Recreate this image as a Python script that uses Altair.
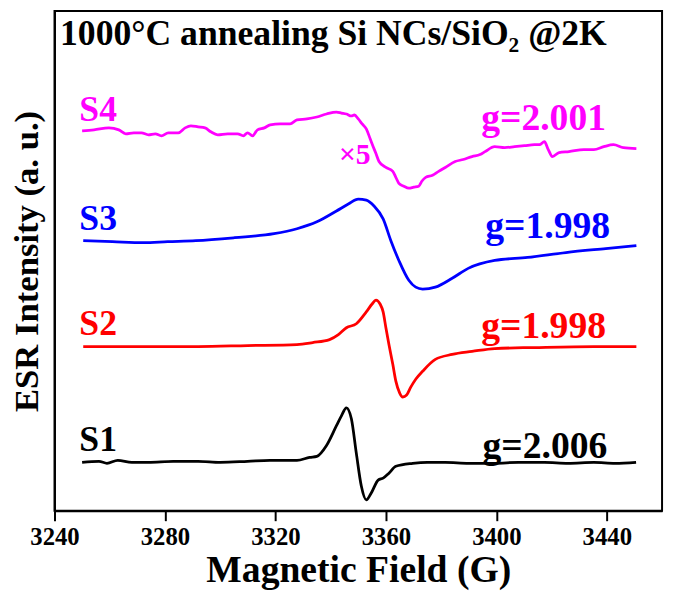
import altair as alt
import pandas as pd

# ---- data (field in G, offset intensity in a.u.) ----
s1_field = [3250.0, 3256.1, 3259.0, 3262.9, 3268.0, 3274.0, 3283.0, 3292.0, 3300.0, 3309.9, 3318.0, 3327.8,
            3332.4, 3335.0, 3338.5, 3342.1, 3343.9, 3345.7, 3347.5, 3349.3, 3351.1, 3352.9, 3354.7,
            3357.2, 3359.0, 3361.1, 3363.6, 3369.7, 3375.0, 3381.5, 3390.0, 3399.4, 3408.0, 3417.4, 3426.0,
            3435.3, 3443.0, 3450.6]
s1_int = [49, 50, 48, 51, 49, 49, 50, 50, 49, 50, 51, 51,
          54, 55, 66, 86, 96, 104, 93, 58, 25, 11, 18,
          31, 33, 38, 45, 48, 49, 49, 48, 48, 49, 49, 48,
          49, 48, 49]

s2_field = [3250.4, 3274.0, 3292.0, 3309.9, 3327.8, 3333.5, 3339.6, 3342.8, 3345.7, 3349.3, 3352.9,
            3355.0, 3356.4, 3357.9, 3359.0, 3360.0, 3361.1, 3362.5, 3363.6, 3365.0, 3366.1, 3367.5,
            3369.0, 3370.8, 3373.3, 3377.9, 3384.0, 3391.2, 3399.4, 3413.8, 3435.3, 3450.7]
s2_int = [166, 166, 166, 167, 168, 170, 173, 178, 185, 189, 201,
          209, 213, 209, 201, 185, 168, 148, 131, 119, 115, 117,
          125, 133, 141, 153, 158, 161, 164, 165, 166, 166]

s3_field = [3250.4, 3261.0, 3272.2, 3281.0, 3291.2, 3305.2, 3319.5, 3327.8, 3335.0, 3342.1, 3346.4,
            3350.0, 3352.9, 3355.7, 3359.0, 3361.8, 3364.7, 3368.3, 3370.8, 3373.3, 3377.9, 3384.0,
            3389.8, 3399.4, 3411.3, 3425.2, 3439.6, 3450.7]
s3_int = [273, 272, 271, 272, 273, 276, 280, 285, 292, 303, 310,
          315, 314, 308, 295, 273, 253, 233, 226, 224, 226, 235,
          245, 253, 256, 261, 265, 268]

s4_field = [3250.0, 3254.3, 3259.7, 3263.3, 3265.8, 3268.7, 3271.5, 3274.0, 3276.5, 3278.7, 3281.2,
            3284.8, 3287.3, 3289.4, 3292.0, 3294.5, 3296.6, 3299.1, 3302.7, 3306.3, 3308.4, 3309.9,
            3311.7, 3313.5, 3316.0, 3318.1, 3321.7, 3325.3, 3327.8, 3331.4, 3335.0, 3338.5, 3342.1,
            3343.9, 3345.7, 3347.5, 3348.6, 3350.0, 3351.4, 3352.9, 3354.3, 3355.4, 3356.4, 3357.5,
            3360.0, 3362.5, 3363.6, 3364.7, 3366.5, 3368.3, 3370.1, 3371.9, 3373.0, 3374.4, 3376.9,
            3379.1, 3381.5, 3385.1, 3388.0, 3391.2, 3394.1, 3395.9, 3399.4, 3403.0, 3406.6, 3410.2,
            3413.8, 3415.6, 3417.4, 3418.8, 3420.3, 3422.7, 3426.3, 3431.7, 3435.3, 3438.9, 3442.4,
            3446.0, 3450.7]
s4_int = [384, 385, 387, 385, 381, 382, 382, 380, 381, 379, 382,
          382, 387, 389, 388, 387, 383, 380, 381, 381, 379, 382,
          379, 385, 387, 390, 391, 391, 395, 396, 398, 401, 403,
          402, 401, 399, 400, 396, 391, 386, 376, 368, 361, 353,
          347, 343, 337, 331, 328, 326, 327, 328, 333, 337, 339,
          343, 347, 353, 355, 358, 360, 363, 368, 367, 368, 369,
          370, 370, 373, 365, 358, 362, 363, 365, 365, 368, 370,
          367, 366]

series_names = ["S1", "S2", "S3", "S4"]
series_colors = ["#000000", "#FF0000", "#0000FF", "#FF00FF"]

# labels
name_field = [3249.0, 3249.0, 3249.0, 3249.0]
name_int = [60, 178, 284, 394]
g_text = ["g=2.006", "g=1.998", "g=1.998", "g=2.001"]
g_field = [3395.0, 3394.5, 3396.0, 3394.5]
g_int = [53, 175, 276, 385]

factor_text = ["×5"]
factor_field = [3343.0]
factor_int = [350]

title_text = ["1000°C annealing Si NCs/SiO₂ @2K"]
title_field = [3242.0]
title_int = [471]

x_ticks = [3240, 3280, 3320, 3360, 3400, 3440]

# ---- build tables ----
rows = []
for name, fs, ys in zip(series_names, [s1_field, s2_field, s3_field, s4_field],
                        [s1_int, s2_int, s3_int, s4_int]):
    for f, y in zip(fs, ys):
        rows.append({"series": name, "field": f, "intensity": y})
df = pd.DataFrame(rows)

names_df = pd.DataFrame({"series": series_names, "label": series_names,
                         "field": name_field, "intensity": name_int})
g_df = pd.DataFrame({"series": series_names, "label": g_text,
                     "field": g_field, "intensity": g_int})
factor_df = pd.DataFrame({"series": ["S4"], "label": factor_text,
                          "field": factor_field, "intensity": factor_int})
title_df = pd.DataFrame({"label": title_text, "field": title_field, "intensity": title_int})

FONT = "Liberation Serif"
x_scale = alt.Scale(domain=[3240, 3460], nice=False, zero=False)
y_scale = alt.Scale(domain=[0, 505], nice=False, zero=False)
color_scale = alt.Scale(domain=series_names, range=series_colors)

x_axis = alt.Axis(title="Magnetic Field (G)", values=x_ticks, format="d",
                  grid=False, tickSize=10, tickWidth=2, labelPadding=4, labelFlush=False,
                  labelFontSize=25, titleFontSize=38, titlePadding=2)
y_axis = alt.Axis(title="ESR Intensity (a. u.)", labels=False, ticks=False,
                  grid=False, titleFontSize=35, titlePadding=10)

lines = alt.Chart(df).mark_line(strokeWidth=2.8, interpolate="monotone").encode(
    x=alt.X("field:Q", scale=x_scale, axis=x_axis),
    y=alt.Y("intensity:Q", scale=y_scale, axis=y_axis),
    color=alt.Color("series:N", scale=color_scale, legend=None),
    order="field:Q",
)


def text_layer(data, size, with_color=True):
    enc = dict(
        x=alt.X("field:Q", scale=x_scale, axis=x_axis),
        y=alt.Y("intensity:Q", scale=y_scale, axis=y_axis),
        text="label:N",
    )
    if with_color:
        enc["color"] = alt.Color("series:N", scale=color_scale, legend=None)
    return alt.Chart(data).mark_text(
        font=FONT, fontWeight="bold", fontSize=size, align="left", baseline="alphabetic",
        color="black"
    ).encode(**enc)


names = text_layer(names_df, 36)
glabels = text_layer(g_df, 38)
factor = text_layer(factor_df, 30)
title = text_layer(title_df, 36, with_color=False)

chart = alt.layer(lines, names, glabels, factor, title).properties(
    width=614, height=505,
    autosize=alt.AutoSizeParams(type="none"),
    padding={"left": 47, "top": 0, "right": 5, "bottom": 85},
).configure_view(
    stroke="black", strokeWidth=2
).configure_axis(
    domainColor="black", domainWidth=2, tickColor="black",
    labelFont=FONT, labelFontWeight="bold", labelColor="black",
    titleFont=FONT, titleFontWeight="bold", titleColor="black",
)

chart.save("out.html", embed_options={"renderer": "svg", "actions": False})
